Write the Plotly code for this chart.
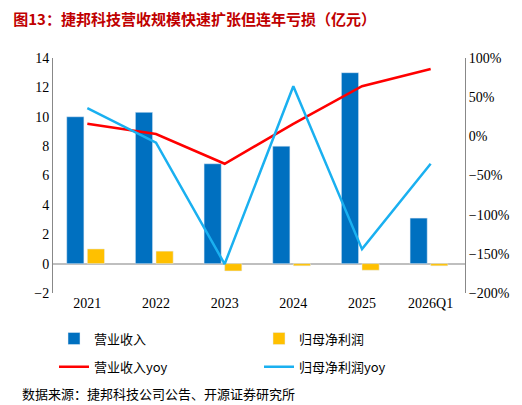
import plotly.graph_objects as go

cats = ["2021", "2022", "2023", "2024", "2025", "2026Q1"]
revenue = [10.0, 10.3, 6.8, 8.0, 13.0, 3.1]
net_profit = [1.0, 0.85, -0.5, -0.15, -0.45, -0.15]
revenue_yoy = [16, 3, -35, 16, 64, 86]
profit_yoy = [36, -8, -163, 64, -144, -35]

font = "Noto Sans CJK SC"
fig = go.Figure()
fig.add_trace(go.Bar(x=cats, y=revenue, name="营业收入", marker_color="#0070C0", width=0.25, offset=-0.3, legend="legend"))
fig.add_trace(go.Bar(x=cats, y=net_profit, name="归母净利润", marker_color="#FFC000", width=0.25, offset=0.0, legend="legend"))
fig.add_trace(go.Scatter(x=cats, y=revenue_yoy, name="营业收入yoy", yaxis="y2", mode="lines", line=dict(color="#FF0000", width=2.5), legend="legend2"))
fig.add_trace(go.Scatter(x=cats, y=profit_yoy, name="归母净利润yoy", yaxis="y2", mode="lines", line=dict(color="#1AB0F0", width=2.5), legend="legend2"))

fig.update_layout(
    width=522, height=405, paper_bgcolor="white", plot_bgcolor="white",
    margin=dict(l=45, r=65, t=50, b=120),
    font=dict(family=font, size=13, color="black"),
    title=dict(text="<b>图13：捷邦科技营收规模快速扩张但连年亏损（亿元）</b>", x=0.01, y=0.985, xanchor="left", yanchor="top", font=dict(size=15, color="#C00000")),
    xaxis=dict(showline=False, ticks="", tickfont=dict(family="Times New Roman, Liberation Serif", size=14)),
    yaxis=dict(range=[-2, 14], dtick=2, showgrid=False, zeroline=True, zerolinecolor="#bfbfbf", showline=True, linecolor="#888",
               tickfont=dict(family="Times New Roman, Liberation Serif", size=14)),
    yaxis2=dict(overlaying="y", side="right", range=[-200, 100], dtick=50, ticksuffix="%", showgrid=False, showline=True, linecolor="#888",
                tickfont=dict(family="Times New Roman, Liberation Serif", size=14)),
    legend=dict(orientation="h", x=0.5, xanchor="center", y=-0.13, yanchor="top", traceorder="normal",
                entrywidth=160, font=dict(size=13)),
    legend2=dict(orientation="h", x=0.5, xanchor="center", y=-0.25, yanchor="top", traceorder="normal",
                 entrywidth=160, font=dict(size=13)),
)
fig.add_annotation(text="数据来源：捷邦科技公司公告、开源证券研究所", xref="paper", yref="paper", x=-0.08, y=-0.38, xanchor="left", yanchor="top", showarrow=False, font=dict(size=13))
fig.write_html("out.html")
